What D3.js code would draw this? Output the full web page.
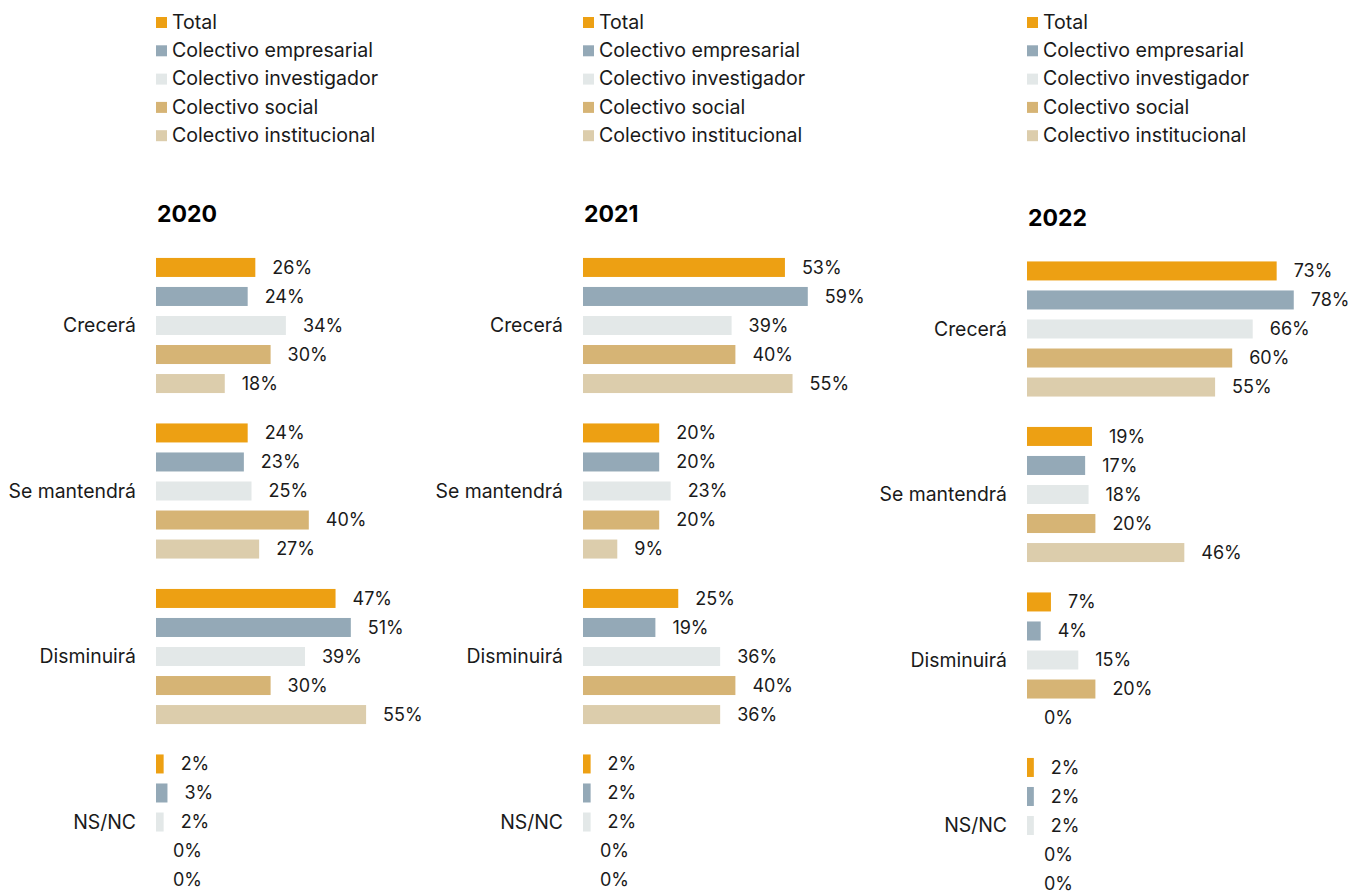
<!DOCTYPE html>
<html>
<head>
<meta charset="utf-8">
<script src="https://cdn.jsdelivr.net/npm/d3@7"></script>
<style>
  body { margin: 0; background: #fff; }
  text { font-family: Inter, "Liberation Sans", Arial, sans-serif; fill: #1a1a1a; }
</style>
</head>
<body>
<script>
// data
const categories = ["Crecerá", "Se mantendrá", "Disminuirá", "NS/NC"];
const series = ["Total", "Colectivo empresarial", "Colectivo investigador", "Colectivo social", "Colectivo institucional"];
const seriesColors = ["#eda013", "#94a9b7", "#e3e8e8", "#d6b475", "#dccdac"];
const years = ["2020", "2021", "2022"];

// rows = categories, columns = series (percent)
const values2020 = [
  [26, 24, 34, 30, 18],
  [24, 23, 25, 40, 27],
  [47, 51, 39, 30, 55],
  [2, 3, 2, 0, 0]
];
const values2021 = [
  [53, 59, 39, 40, 55],
  [20, 20, 23, 20, 9],
  [25, 19, 36, 40, 36],
  [2, 2, 2, 0, 0]
];
const values2022 = [
  [73, 78, 66, 60, 55],
  [19, 17, 18, 20, 46],
  [7, 4, 15, 20, 0],
  [2, 2, 2, 0, 0]
];
const allValues = [values2020, values2021, values2022];

// panel layout
const panels = [
  {left: 156, top: 253, pxPerHundred: 382, titleY: 222},
  {left: 583, top: 253, pxPerHundred: 381, titleY: 222},
  {left: 1027, top: 256.5, pxPerHundred: 342, titleY: 226}
];

const W = 1364, H = 891;
const svg = d3.select("body").append("svg")
    .attr("width", W)
    .attr("height", H);

const color = d3.scaleOrdinal().domain(series).range(seriesColors);

years.forEach((year, p) => {
  const cfg = panels[p];
  const vals = allValues[p];
  const g = svg.append("g");

  // legend
  const legend = g.append("g")
      .attr("transform", `translate(${cfg.left}, 22)`);
  legend.selectAll(".legend-item")
    .data(series)
    .join("g")
      .attr("class", "legend-item")
      .attr("transform", (d, i) => `translate(0, ${i * 28.3})`)
    .call(li => {
      li.append("rect")
        .attr("x", 0)
        .attr("y", -5)
        .attr("width", 11)
        .attr("height", 11)
        .attr("fill", d => color(d));
      li.append("text")
        .attr("x", 16)
        .attr("y", 0)
        .attr("dy", "0.35em")
        .style("font-size", "19.6px")
        .text(d => d);
    });

  // title
  g.append("text")
      .attr("x", cfg.left + 1)
      .attr("y", cfg.titleY)
      .style("font-size", "23px")
      .style("font-weight", "bold")
      .style("fill", "#000")
      .text(year);

  // scales
  const x = d3.scaleLinear()
      .domain([0, 100])
      .range([cfg.left, cfg.left + cfg.pxPerHundred]);

  const y0 = d3.scaleBand()
      .domain(categories)
      .range([cfg.top, cfg.top + 4 * 165.5 - 20.5])
      .paddingInner(0.124);

  const y1 = d3.scaleBand()
      .domain(series)
      .range([0, y0.bandwidth()])
      .paddingInner(0.345)
      .paddingOuter(0.17);

  const groups = g.selectAll(".cat")
    .data(categories)
    .join("g")
      .attr("class", "cat")
      .attr("transform", d => `translate(0, ${y0(d)})`);

  // category labels
  groups.append("text")
      .attr("x", cfg.left - 20)
      .attr("y", y0.bandwidth() / 2)
      .attr("dy", "0.35em")
      .attr("text-anchor", "end")
      .style("font-size", "19.4px")
      .text(d => d);

  const cells = groups.selectAll(".cell")
    .data((d, i) => series.map((s, j) => ({s, v: vals[i][j]})))
    .join("g")
      .attr("class", "cell");

  cells.append("rect")
      .attr("x", x(0))
      .attr("y", d => y1(d.s))
      .attr("width", d => x(d.v) - x(0))
      .attr("height", y1.bandwidth())
      .attr("fill", d => color(d.s));

  cells.append("text")
      .attr("x", d => x(d.v) + 17)
      .attr("y", d => y1(d.s) + y1.bandwidth() / 2)
      .attr("dy", "0.35em")
      .style("font-size", "18px")
      .text(d => `${d.v}%`);
});
</script>
</body>
</html>
